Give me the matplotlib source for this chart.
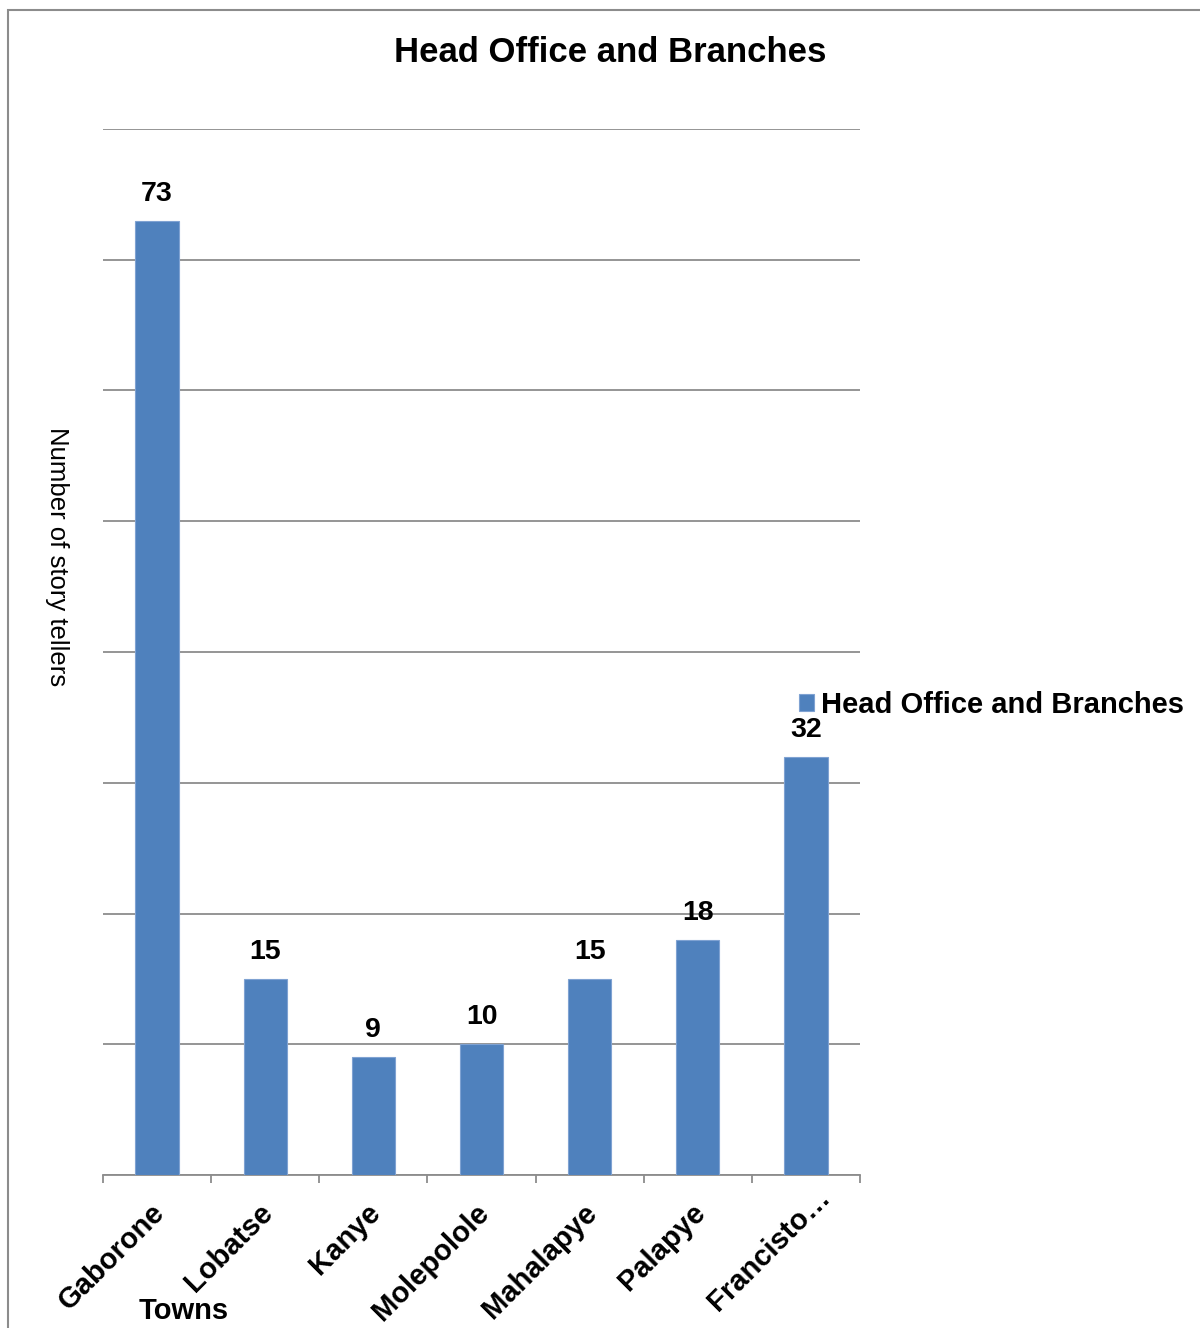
import matplotlib
matplotlib.use("Agg")
import matplotlib.pyplot as plt
from matplotlib.patches import Rectangle

# data
towns = ["Gaborone", "Lobatse", "Kanye", "Molepolole", "Mahalapye", "Palapye", "Francisto…"]
tellers = [73, 15, 9, 10, 15, 18, 32]
series_name = "Head Office and Branches"

plt.rcParams["font.family"] = ["Liberation Sans", "DejaVu Sans"]

bar_color = "#4F81BD"
grid_color = "#8C8C8C"

fig = plt.figure(figsize=(12, 13.28), dpi=100)
ax = fig.add_axes([103 / 1200, 1 - 1175 / 1328, 757 / 1200, (1175 - 129) / 1328])

x = list(range(len(towns)))
bars = ax.bar(x, tellers, width=0.4, color=bar_color, edgecolor="#7FA2D2", linewidth=0.8,
              label=series_name, zorder=3)

ax.set_xlim(-0.5, len(towns) - 0.5)
ax.set_ylim(0, 80)
ax.set_yticks(range(0, 81, 10))
ax.yaxis.grid(True, color=grid_color, linewidth=1.3, zorder=0)
ax.tick_params(axis="y", left=False, labelleft=False)

# category boundary ticks
ax.set_xticks([i - 0.5 for i in range(len(towns) + 1)])
ax.set_xticklabels([])
ax.tick_params(axis="x", direction="out", length=6, width=1.3, color=grid_color)
for s in ["top", "right", "left"]:
    ax.spines[s].set_visible(False)
ax.spines["bottom"].set_color(grid_color)
ax.spines["bottom"].set_linewidth(1.3)

# rotated town labels (the truncated last one sits a bit further up-right)
for i, t in enumerate(towns):
    off = (14, -13) if t.endswith("…") else (2, -24)
    ax.annotate(t, xy=(i, 0), xytext=off, textcoords="offset points",
                rotation=45, ha="right", va="center", rotation_mode="anchor",
                fontsize=21, fontweight="bold")

# value labels
for b, v in zip(bars, tellers):
    ax.annotate(str(v), xy=(b.get_x() + b.get_width() / 2, v), xytext=(0, 10),
                textcoords="offset points", ha="center", va="bottom",
                fontsize=20.5, fontweight="bold")

fig.text(610 / 1200, 1 - 52 / 1328, "Head Office and Branches", ha="center", va="center",
         fontsize=25, fontweight="bold")
fig.text(57 / 1200, 1 - 557 / 1328, "Number of story tellers", rotation=270,
         ha="center", va="center", fontsize=18.5)
fig.text(184 / 1200, 1 - 1311 / 1328, "Towns", ha="center", va="center", fontsize=21,
         fontweight="bold", bbox=dict(facecolor="white", edgecolor="none", pad=2))

ax.legend(loc="center left", bbox_to_anchor=(799 / 1200, 1 - 705 / 1328),
          bbox_transform=fig.transFigure, frameon=False,
          prop={"weight": "bold", "size": 21}, handlelength=0.52, handleheight=0.52,
          handletextpad=0.25, borderpad=0, borderaxespad=0)

# outer chart border
fig.patches.append(Rectangle((8 / 1200, -0.1), 1.2, 1 - 10 / 1328 + 0.1,
                             transform=fig.transFigure, fill=False,
                             edgecolor=grid_color, linewidth=1.5))

fig.savefig("out.png", dpi=100)
